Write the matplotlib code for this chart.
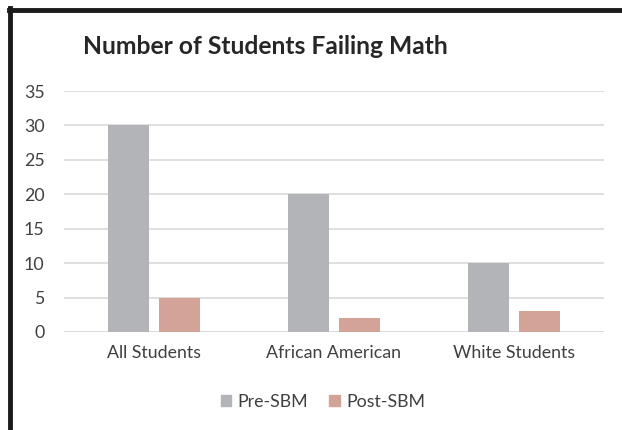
import matplotlib
matplotlib.use("Agg")
import matplotlib.pyplot as plt
from matplotlib.lines import Line2D
from matplotlib.patches import Patch
import numpy as np

categories = ["All Students", "African American", "White Students"]
pre_sbm = [30, 20, 10]
post_sbm = [5, 2, 3]
series_names = ["Pre-SBM", "Post-SBM"]
y_ticks = [0, 5, 10, 15, 20, 25, 30, 35]

W, H = 622, 430
fig = plt.figure(figsize=(W / 100, H / 100), dpi=100)
plt.rcParams['font.family'] = ['Lato', 'DejaVu Sans']

gray = "#b2b4b7"
pink = "#d4a398"
text_col = "#404040"

ax = fig.add_axes([64 / W, 1 - 332 / H, (604 - 64) / W, (332 - 91) / H])
x = np.arange(len(categories))
bw = 0.227
gap = 0.055
ax.bar(x - (bw + gap) / 2, pre_sbm, bw, color=gray, zorder=3)
ax.bar(x + (bw + gap) / 2, post_sbm, bw, color=pink, zorder=3)

ax.set_xlim(-0.5, len(categories) - 0.5)
ax.set_ylim(0, 35)
ax.set_yticks(y_ticks)
ax.set_xticks(x)
ax.set_xticklabels(categories)
ax.tick_params(axis='both', length=0, labelsize=12.8, colors=text_col)
ax.tick_params(axis='y', pad=14)
ax.tick_params(axis='x', pad=9)
ax.grid(axis='y', color="#d9d9d9", linewidth=1.2, zorder=0)
for s in ax.spines.values():
    s.set_visible(False)
ax.axhline(0, color="#d9d9d9", linewidth=1.2, zorder=2)

fig.text(265 / W, 1 - 46 / H, "Number of Students Failing Math",
         ha='center', va='center', fontsize=17.7, fontweight='bold', color="#262626")

handles = [Patch(color=gray), Patch(color=pink)]
fig.legend(handles, series_names, loc='center', bbox_to_anchor=(323 / W, 1 - 402 / H),
           ncol=2, frameon=False, fontsize=12.8, handlelength=0.6, handleheight=0.6,
           columnspacing=1.2, handletextpad=0.35, labelcolor=text_col)

# frame along top and left edges
fig.add_artist(Line2D([10 / W, 10 / W], [0, 1 - 8 / H], color="#1a1a1a", linewidth=3.5,
                      transform=fig.transFigure))
fig.add_artist(Line2D([8.5 / W, 1], [1 - 10 / H, 1 - 10 / H], color="#1a1a1a", linewidth=3.5,
                      transform=fig.transFigure))

fig.savefig("out.png", dpi=100)
